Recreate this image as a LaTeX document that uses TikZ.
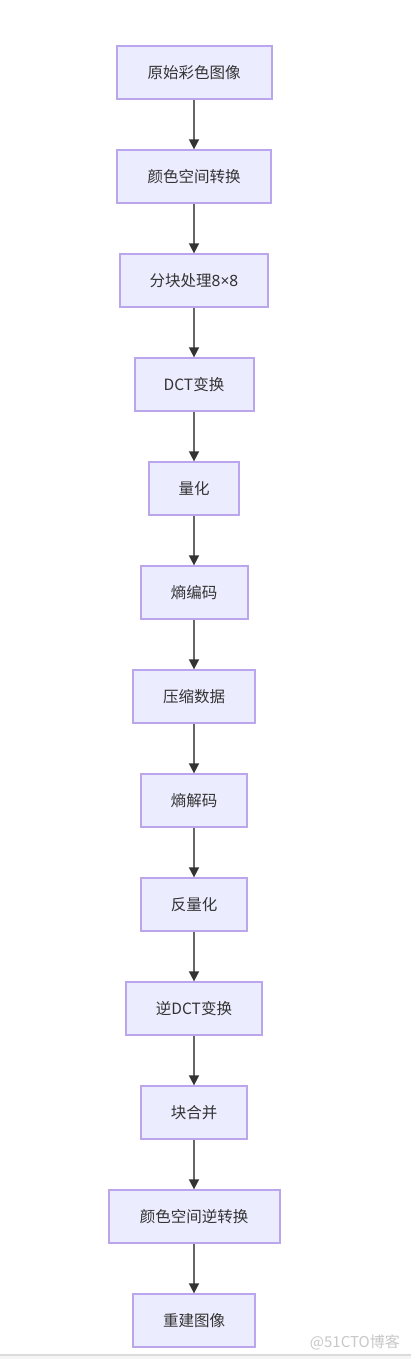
\documentclass[tikz,border=0pt]{standalone}
\usepackage{fontspec}
\setmainfont{Noto Sans CJK SC}
\newfontfamily\latinfnt{Noto Sans}
\usetikzlibrary{arrows.meta}
\definecolor{boxfill}{HTML}{ECECFF}
\definecolor{boxline}{HTML}{BBA6EE}
\definecolor{txt}{HTML}{333333}
\definecolor{arrowc}{HTML}{666666}
\definecolor{tipc}{HTML}{333333}
\definecolor{wm}{HTML}{C8C8C8}
\tikzset{
  box/.style={draw=boxline, fill=boxfill, line width=2pt, minimum height=52.7pt, inner sep=0pt,
    font=\fontsize{15.5pt}{18pt}\selectfont, text=txt},
  flow/.style={draw=arrowc, line width=1.6pt, -{Triangle[length=10pt,width=10pt,color=tipc]}}
}
\begin{document}
\begin{tikzpicture}[x=1pt,y=-1pt]
\useasboundingbox (0,0) rectangle (411,1359);
\fill[white] (0,0) rectangle (411,1359);
\fill[black!4] (0,1355) rectangle (411,1359);
\draw[black!14, line width=1.2pt] (0,1355) -- (411,1355);
\node[box, minimum width=155pt] (n1) at (194,72.7) {原始彩色图像};
\node[box, minimum width=154pt] (n2) at (194,176.7) {颜色空间转换};
\node[box, minimum width=147.5pt] (n3) at (194,280.7) {分块处理{\latinfnt 8×8}};
\node[box, minimum width=119pt] (n4) at (194,384.7) {DCT变换};
\node[box, minimum width=90.3pt] (n5) at (194,488.7) {量化};
\node[box, minimum width=107pt] (n6) at (194,592.7) {熵编码};
\node[box, minimum width=122.6pt] (n7) at (194,696.7) {压缩数据};
\node[box, minimum width=106.6pt] (n8) at (194,800.7) {熵解码};
\node[box, minimum width=106.6pt] (n9) at (194,904.7) {反量化};
\node[box, minimum width=135.4pt] (n10) at (194,1008.7) {逆DCT变换};
\node[box, minimum width=106.6pt] (n11) at (194,1112.7) {块合并};
\node[box, minimum width=171pt] (n12) at (194,1216.7) {颜色空间逆转换};
\node[box, minimum width=122.3pt] (n13) at (194,1320.7) {重建图像};
\foreach \a/\b in {n1/n2,n2/n3,n3/n4,n4/n5,n5/n6,n6/n7,n7/n8,n8/n9,n9/n10,n10/n11,n11/n12,n12/n13}
  \draw[flow] (\a.south) -- (\b.north);
\node[anchor=east, text=wm, font=\fontsize{15pt}{17pt}\selectfont, inner sep=0pt] (wmk) at (400,1342) {@51CTO博客};
\end{tikzpicture}
\end{document}
